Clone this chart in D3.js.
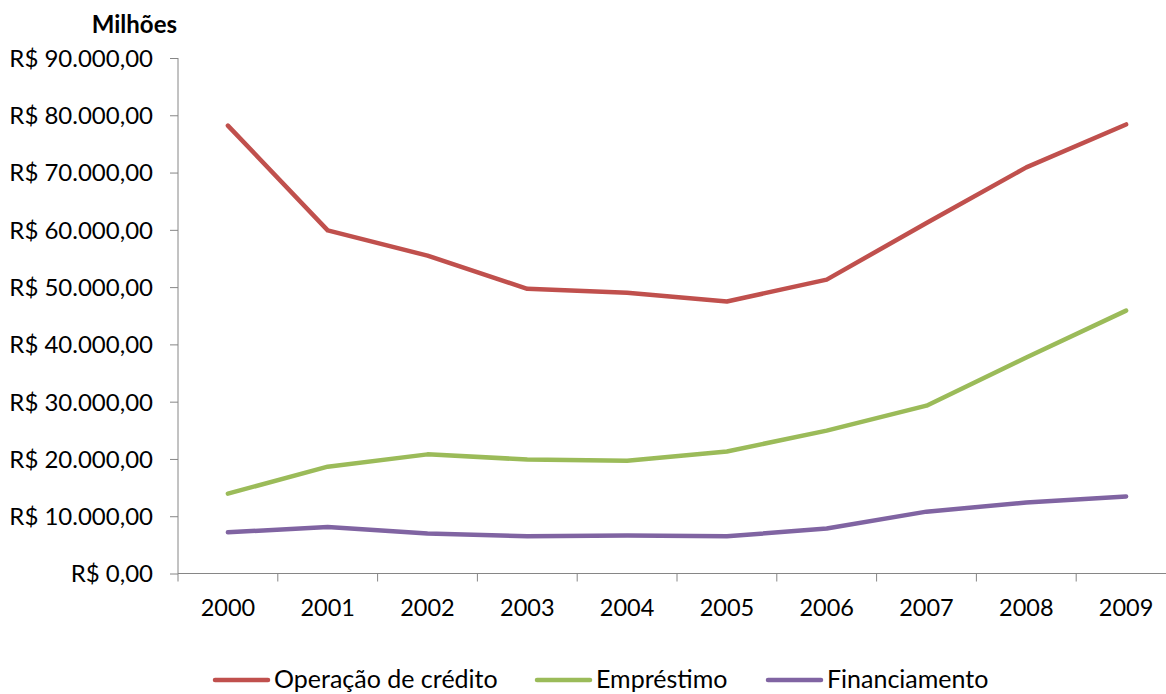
<!DOCTYPE html>
<html><head><meta charset="utf-8">
<script src="https://cdn.jsdelivr.net/npm/d3@7"></script>
<style>
html,body{margin:0;padding:0;background:#fff;}
svg text{font-family:Lato,"Open Sans",sans-serif;fill:#000;}
</style></head>
<body>
<svg id="c" width="1166" height="694"></svg>
<script>
const years = ["2000","2001","2002","2003","2004","2005","2006","2007","2008","2009"];
const operacao = [78200, 59900, 55500, 49700, 49000, 47500, 51300, 61200, 70900, 78400];
const emprestimo = [13950, 18650, 20800, 19900, 19700, 21300, 24950, 29300, 37700, 45900];
const financiamento = [7200, 8100, 7000, 6500, 6650, 6500, 7850, 10800, 12400, 13450];
const yTicks = [0, 10000, 20000, 30000, 40000, 50000, 60000, 70000, 80000, 90000];
const seriesNames = ["Operação de crédito", "Empréstimo", "Financiamento"];
const colors = ["#C0504D", "#9BBB59", "#8064A2"];
const unitLabel = "Milhões";

const svg = d3.select("#c");
const x = d3.scaleBand().domain(years).range([178, 1176]);
const y = d3.scaleLinear().domain([0, 90000]).range([573.5, 58]);
const axisColor = "#868686";

const fmt = v => "R$ " + d3.format(",.2f")(v).replace(/,/g, "#").replace(/\./g, ",").replace(/#/g, ".");

// Y axis
const ya = svg.append("g").attr("transform", "translate(178,0)")
  .call(d3.axisLeft(y).tickValues(yTicks).tickSize(8).tickPadding(17).tickFormat(fmt));
ya.select(".domain").attr("stroke", axisColor).attr("d", `M0,${y(90000)}V${y(0)}`);
ya.selectAll(".tick line").attr("stroke", axisColor);
ya.selectAll(".tick text").attr("font-size", 24).attr("font-family", "Lato").attr("fill", "#000").attr("dy", "0.35em");

// X axis
const xa = svg.append("g").attr("transform", `translate(0,${y(0)})`)
  .call(d3.axisBottom(x).tickSize(0).tickPadding(0));
xa.select(".domain").attr("stroke", axisColor).attr("d", `M178,0H1176`);
xa.selectAll(".tick text").attr("font-size", 23.5).attr("font-family", "Lato").attr("fill", "#000").attr("y", 42).attr("dy", 0);
// category boundary ticks
svg.append("g").selectAll("line").data(years.concat(["_end"]))
  .join("line")
  .attr("x1", (d, i) => 178 + i * x.step()).attr("x2", (d, i) => 178 + i * x.step())
  .attr("y1", y(0)).attr("y2", y(0) + 8).attr("stroke", axisColor);

// Unit label
svg.append("text").attr("x", 177).attr("y", 33).attr("text-anchor", "end")
  .attr("font-weight", "bold").attr("font-size", 24).text(unitLabel);

// Lines
const data = [operacao, emprestimo, financiamento];
const line = d3.line().x((d, i) => x(years[i]) + x.bandwidth() / 2).y(d => y(d));
svg.append("g").selectAll("path").data(data).join("path")
  .attr("d", line).attr("fill", "none")
  .attr("stroke", (d, i) => colors[i]).attr("stroke-width", 4.5)
  .attr("stroke-linejoin", "round").attr("stroke-linecap", "round");

// Legend
const legX = [215, 537, 768];
const lg = svg.append("g").selectAll("g").data(seriesNames).join("g")
  .attr("transform", (d, i) => `translate(${legX[i]},680)`);
lg.append("line").attr("x1", 0).attr("x2", 53).attr("y1", 0).attr("y2", 0)
  .attr("stroke", (d, i) => colors[i]).attr("stroke-width", 4.5).attr("stroke-linecap", "round");
lg.append("text").attr("x", 59).attr("y", 8).attr("font-size", 25).text(d => d);
</script>
</body></html>
